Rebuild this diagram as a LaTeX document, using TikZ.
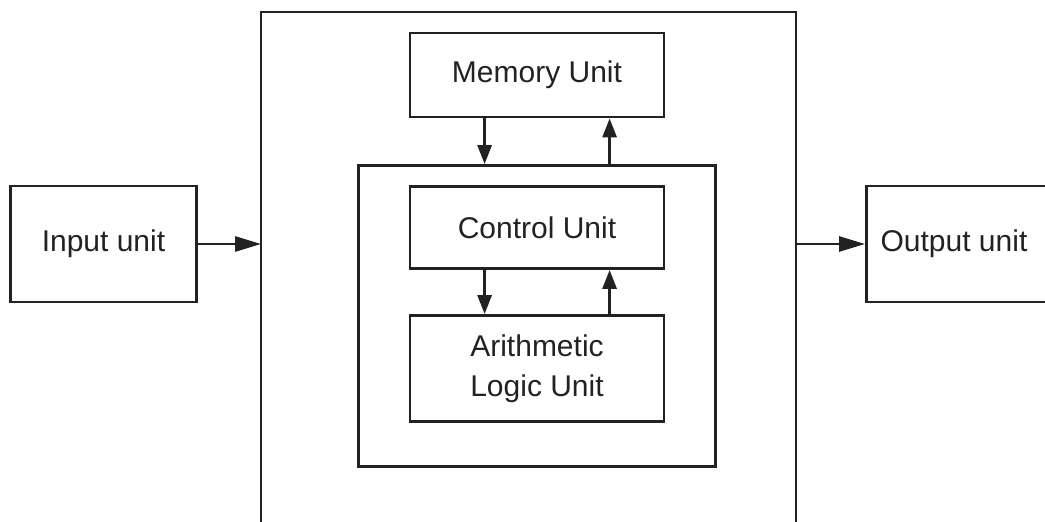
\documentclass[tikz,border=0pt]{standalone}
\usepackage{fontspec}
\setmainfont{Liberation Sans}
\usetikzlibrary{arrows.meta,calc}
\definecolor{ink}{HTML}{222222}
\begin{document}
\begin{tikzpicture}[x=1pt,y=-1pt,
  box/.style={draw=ink, line width=2.8pt, rectangle, inner sep=0pt, text=ink,
    font=\fontsize{30}{40}\selectfont, align=center},
  txt/.style={text=ink, inner sep=0pt, font=\fontsize{30}{40}\selectfont},
  harr/.style={draw=ink, line width=2.8pt, -{Triangle[length=26pt,width=15pt]}},
  varr/.style={draw=ink, line width=2.8pt, -{Triangle[length=19pt,width=14pt]}}]
\useasboundingbox (0,0) rectangle (1045,522);
% outer (open at the bottom)
\coordinate (oBL) at (261,524);
\coordinate (oTL) at (261,12);
\coordinate (oTR) at (796,12);
\coordinate (oBR) at (796,524);
\draw[ink, line width=2.8pt] (oBL) -- (oTL) -- (oTR) -- (oBR);
% nodes
\node[box, minimum width=186, minimum height=116] (in) at (103.5,244) {Input unit};
\node[box, minimum width=200, minimum height=116, anchor=west] (out) at (865,244) {};
\node[txt] (outtxt) at (954,244) {Output unit};
\node[box, minimum width=254, minimum height=84] (mem) at (537,75) {Memory Unit};
\node[box, minimum width=357, minimum height=301] (cpu) at (537,316) {};
\node[box, minimum width=254, minimum height=82] (cu) at (537,227.5) {Control Unit};
\node[box, minimum width=254, minimum height=106] (alu) at (537,368.5) {Arithmetic\\Logic Unit};
% horizontal arrows
\draw[harr] (in.east) -- (in.east -| oTL);
\draw[harr] (out.west -| oTR) -- (out.west);
% vertical arrows
\coordinate (mdn) at ($(mem.south west)+(76,0)$);
\coordinate (mup) at ($(mem.south west)+(201,0)$);
\draw[varr] (mdn) -- (mdn |- cpu.north);
\draw[varr] (mup |- cpu.north) -- (mup);
\coordinate (cdn) at ($(cu.south west)+(76,0)$);
\coordinate (cup) at ($(cu.south west)+(201,0)$);
\draw[varr] (cdn) -- (cdn |- alu.north);
\draw[varr] (cup |- alu.north) -- (cup);
\end{tikzpicture}
\end{document}
